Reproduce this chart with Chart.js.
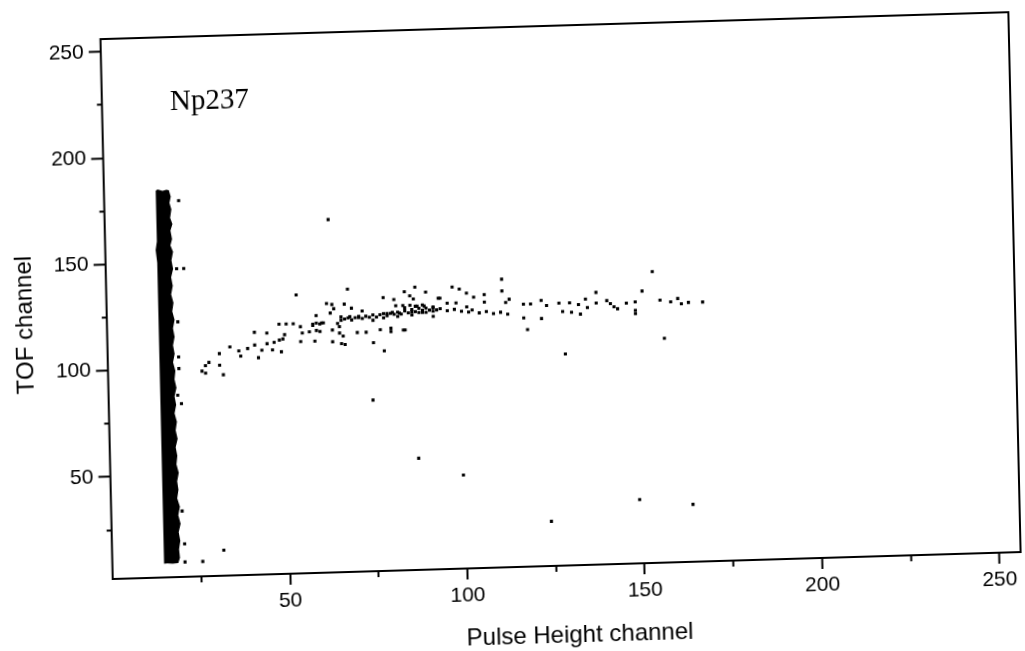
<!DOCTYPE html>
<html>
<head>
<meta charset="utf-8">
<script src="https://cdn.jsdelivr.net/npm/chart.js@4.4.1/dist/chart.umd.min.js"></script>
<style>
  html, body { margin: 0; padding: 0; background: #fff; overflow: hidden; }
  /* the scanned figure sits slightly askew on the page */
  #wrap {
    position: absolute; left: 0; top: 0; width: 1025px; height: 700px;
    transform-origin: 112.7px 579px;
    transform: matrix(0.99956, -0.02967, 0.02269, 0.99974, 0, 0);
  }
</style>
</head>
<body>
<div id="wrap"><canvas id="chart" width="1025" height="700"></canvas></div>
<script>
const X_RANGE = [0, 256];
const Y_RANGE = [2, 256];
const xMajorTicks = [50, 100, 150, 200, 250];
const xMinorTicks = [25, 75, 125, 175, 225];
const yMajorTicks = [50, 100, 150, 200, 250];
const yMinorTicks = [25, 75, 125, 175, 225];

// solid band of events at low pulse height: left edge going up, then ragged right edge going down
const bandLeftEdge = [
  [15.5, 8.6], [14.6, 8.5], [14.5, 40], [14.7, 80], [14.5, 120], [14.6, 150], [14.2, 156],
  [14.6, 160], [14.6, 184], [15.2, 184.5], [16.5, 183.8], [17.6, 184.3],
];
const bandRightEdge = [
  [18.3, 184], [18.8, 181], [18.4, 178], [18.9, 175], [18.5, 171], [19.1, 168], [18.5, 165],
  [18.9, 161], [18.4, 158], [19.1, 155], [18.6, 151], [19.0, 147], [18.4, 143], [18.8, 139],
  [18.3, 135], [18.9, 131], [18.5, 127], [19.1, 123], [18.6, 119], [19.0, 115], [18.5, 111],
  [18.9, 107], [18.4, 103], [19.0, 99], [18.7, 95], [19.2, 91], [18.6, 87], [19.0, 83],
  [18.5, 79], [19.1, 75], [18.7, 71], [19.2, 67], [18.6, 63], [19.0, 59], [18.7, 55],
  [19.3, 51], [18.8, 47], [19.1, 43], [18.7, 39], [19.4, 35], [18.9, 31], [19.5, 27],
  [18.9, 23], [19.3, 19], [18.9, 15], [19.1, 11], [18.6, 8.6], [17, 8.3],
];

// loose events beside the band and far from the main branch
const strayEvents = [
  [21, 179], [20, 147], [22, 147], [20, 122], [20, 105.5], [20, 100], [19.5, 87.5], [20.5, 83.5],
  [20, 33], [20.5, 17.5], [20.5, 9], [25.5, 9], [31.5, 14],
  [63, 168], [53.5, 133], [68, 135], [74.5, 82.5], [87, 54.5], [99.5, 46], [124, 23],
  [149, 32], [164, 29], [129, 101.5], [157, 107.5], [154, 139], [111.5, 137.5],
];

// rising branch, Pulse Height 26..95
const branchLow = [
  [26.5, 98.5], [27.5, 97.5], [27.5, 101], [28.5, 102.5], [31.5, 101], [32.5, 96.5], [31.5, 106.5],
  [34.5, 109.5], [37, 107.5], [37.5, 105], [39.5, 108.5], [41.5, 110], [41.5, 116], [42.5, 104],
  [43.5, 107.5], [45, 110.5], [45, 115.5], [46.5, 107.5], [47, 111], [48.5, 112], [49.5, 112.5],
  [49, 106.5], [48.5, 119.5], [50, 114.5], [50.5, 119.5], [52.5, 119.5], [54.5, 118], [54.5, 111],
  [55, 115], [57, 115.5], [58, 119], [58.5, 111], [59, 116], [59, 123], [60, 115.5], [60.5, 119.5],
  [62, 128.5], [63, 124], [63.5, 128], [63.5, 116], [63.5, 110.5], [64, 126], [65, 119], [65.5, 117.5],
  [65.5, 114.5], [66, 122], [66, 109.5], [66.5, 113], [67, 128], [67, 109], [68.5, 122], [69, 126],
  [70.5, 114.5], [71, 121.5], [72, 124.5], [73, 114.5], [75, 120], [75, 109.5], [77, 115.5],
  [78, 130.5], [78, 105.5], [79, 123], [80, 116], [80, 114.5], [80.5, 123.5], [81, 129.5],
  [81.5, 126.5], [82.5, 123], [83.5, 126.5], [83.5, 115], [84, 133], [84, 115], [85.5, 131],
  [85.5, 126.5], [86, 123.5], [86.5, 129.5], [87, 135], [87.5, 126], [89, 123], [89.5, 126],
  [90, 132.5], [92, 125], [92, 121], [93.5, 129.5], [94, 129.5],
];

// dense streak along the branch
const branchStreak = [
  [58, 118.5], [59, 119.5], [60, 119], [61, 119.5], [66, 120.5], [67, 121], [68, 121.5], [69, 120.5],
  [70, 121.5], [71, 122], [72, 121], [73, 122], [74, 121.5], [75, 122.5], [76, 121.5], [77, 122.5],
  [78, 123], [78, 121], [79, 122], [80, 123], [81, 122.5], [82, 123.5], [82, 121.5], [83, 122.5],
  [84, 124], [84, 125.5], [85, 123], [86, 124.5], [86, 122], [87, 123.5], [87, 126], [88, 125],
  [88, 123], [89, 124], [89, 126.5], [90, 125], [90, 123], [91, 124], [92, 125.5], [92, 123.5],
  [93, 124], [94, 124.5], [96, 123.5], [98, 124], [100, 123], [102, 122.5], [103, 123.5],
  [105, 122], [107, 122.5], [109, 121.5], [111, 122], [113, 121],
];

// flat part of the branch, Pulse Height 96..168
const branchHigh = [
  [96, 127], [97.5, 134.5], [98.5, 127], [99.5, 133.5], [101.5, 131.5], [101.5, 125], [103.5, 129.5],
  [106.5, 130.5], [106.5, 127], [111.5, 132], [112.5, 126.5], [113.5, 128], [117.5, 125.5],
  [117.5, 119], [118.5, 113.5], [119.5, 125.5], [122.5, 127], [122.5, 118.5], [124, 124.5],
  [127.5, 125.5], [128.5, 121.5], [130.5, 125.5], [131, 121], [133, 124.5], [133.5, 120],
  [135, 127], [135.5, 123], [138, 130], [138, 125], [141, 126], [142, 124.5], [143, 123],
  [144, 122], [146.5, 124.5], [149, 125], [149, 121], [149, 119.5], [151, 130], [156, 125.5],
  [159, 124.5], [161, 126], [162, 123.5], [164, 124], [168, 124],
];

const SANS = "'Liberation Sans', Arial, sans-serif";
const SERIF = "'Liberation Serif', 'Times New Roman', serif";
const toPoints = (rows) => rows.map(([x, y]) => ({ x, y }));
const setTicks = (values) => (scale) => { scale.ticks = values.map((value) => ({ value })); };

const labels = {
  id: "labels",
  afterDraw(chart) {
    const { ctx, chartArea: area, scales } = chart;
    ctx.save();
    ctx.strokeStyle = "#000";
    ctx.lineWidth = 2;
    ctx.strokeRect(area.left, area.top, area.right - area.left, area.bottom - area.top);

    ctx.fillStyle = "#000";
    ctx.font = `29px ${SERIF}`;
    ctx.textAlign = "left";
    ctx.textBaseline = "alphabetic";
    ctx.fillText("Np237", scales.x.getPixelForValue(19.2), scales.y.getPixelForValue(221.7));

    ctx.font = `24px ${SANS}`;
    ctx.textAlign = "center";
    ctx.textBaseline = "middle";
    ctx.fillText("Pulse Height channel", area.left + 466, area.bottom + 70);

    ctx.translate(31, area.top + 283.5);
    ctx.rotate(-Math.PI / 2);
    ctx.fillText("TOF channel", 0, 0);
    ctx.restore();
  },
};

const tickFont = { family: SANS, size: 21 };
const tickMarks = (len) => ({ drawOnChartArea: false, tickLength: len, tickWidth: 2, tickColor: "#000" });

new Chart(document.getElementById("chart"), {
  type: "scatter",
  data: {
    datasets: [
      {
        type: "line",
        data: toPoints(bandLeftEdge.concat(bandRightEdge)),
        fill: "shape",
        backgroundColor: "#000",
        borderWidth: 0,
        pointRadius: 0,
        tension: 0,
      },
      {
        data: toPoints(strayEvents.concat(branchLow, branchStreak, branchHigh)),
        pointStyle: "rect",
        pointRadius: 2.2,
        pointBorderWidth: 0,
        backgroundColor: "#000",
      },
    ],
  },
  options: {
    responsive: false,
    animation: false,
    events: [],
    layout: { padding: { top: 39, right: 2.9, left: 0, bottom: 0 } },
    plugins: { legend: { display: false }, tooltip: { enabled: false } },
    scales: {
      x: {
        type: "linear", position: "bottom", weight: 1,
        min: X_RANGE[0], max: X_RANGE[1],
        afterBuildTicks: setTicks(xMajorTicks),
        afterFit: (scale) => { scale.height = 121; },
        grid: tickMarks(11),
        border: { display: false },
        ticks: { color: "#000", font: tickFont, padding: 4, maxRotation: 0, autoSkip: false },
      },
      x2: {
        type: "linear", position: "bottom", weight: 0,
        min: X_RANGE[0], max: X_RANGE[1],
        afterBuildTicks: setTicks(xMinorTicks),
        afterFit: (scale) => { scale.height = 0; },
        grid: tickMarks(6),
        border: { display: false },
        ticks: { display: false },
      },
      y: {
        type: "linear", position: "left", weight: 1,
        min: Y_RANGE[0], max: Y_RANGE[1],
        afterBuildTicks: setTicks(yMajorTicks),
        afterFit: (scale) => { scale.width = 112.7; },
        grid: tickMarks(12),
        border: { display: false },
        ticks: { color: "#000", font: tickFont, padding: 5, autoSkip: false },
      },
      y2: {
        type: "linear", position: "left", weight: 0,
        min: Y_RANGE[0], max: Y_RANGE[1],
        afterBuildTicks: setTicks(yMinorTicks),
        afterFit: (scale) => { scale.width = 0; },
        grid: tickMarks(5),
        border: { display: false },
        ticks: { display: false },
      },
    },
  },
  plugins: [labels],
});
</script>
</body>
</html>
